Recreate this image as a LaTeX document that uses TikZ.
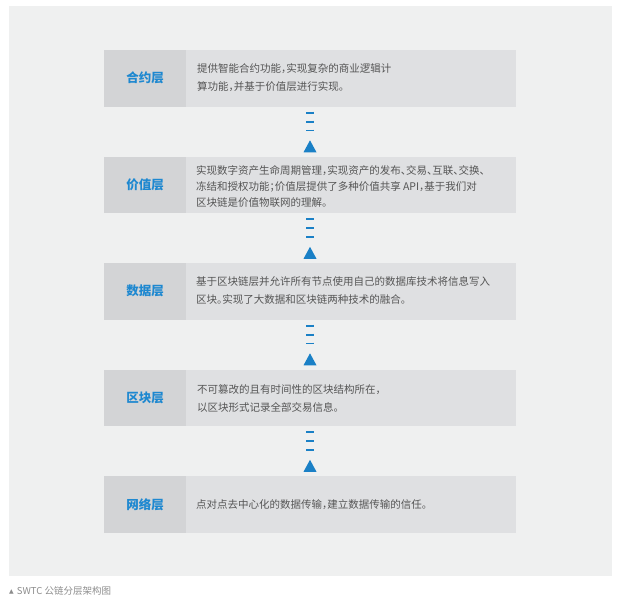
\documentclass[tikz,border=0pt]{standalone}
\usepackage{fontspec}
\setmainfont{Noto Sans CJK SC}[RawFeature={+halt}]
\newfontfamily\symfont{DejaVu Sans}
\definecolor{panelc}{HTML}{EFF0F0}
\definecolor{rowc}{HTML}{DFE0E2}
\definecolor{labc}{HTML}{D3D4D6}
\definecolor{bluec}{HTML}{1E88D0}
\definecolor{arrc}{HTML}{1A80C6}
\definecolor{textc}{HTML}{555555}
\definecolor{capc}{HTML}{8C8C8C}
\begin{document}
\begin{tikzpicture}[x=1pt,y=1pt,
  rowbox/.style={fill=rowc, minimum width=412pt, minimum height=56.5pt, inner sep=0pt, draw=none},
  labbox/.style={fill=labc, minimum width=82pt, minimum height=56.5pt, inner sep=0pt, anchor=west, font=\fontsize{12.5}{14}\selectfont\bfseries, text=bluec},
  bodytext/.style={anchor=west, inner sep=0pt, align=left, text=textc, font=\fontsize{10.5}{17.7}\selectfont},
  bars/.style={draw=arrc, line width=8pt, dash pattern=on 2pt off 7pt},
  tri/.style={fill=arrc}
]
\useasboundingbox (0,0) rectangle (620,-600);
\fill[panelc] (9,-6) rectangle (612,-576);

\node[rowbox] (r1) at (310,-78.25) {};
\node[rowbox] (r2) at (310,-184.75) {};
\node[rowbox] (r3) at (310,-291.25) {};
\node[rowbox] (r4) at (310,-397.75) {};
\node[rowbox] (r5) at (310,-504.25) {};

\node[labbox] (l1) at (r1.west) {合约层};
\node[labbox] (l2) at (r2.west) {价值层};
\node[labbox] (l3) at (r3.west) {数据层};
\node[labbox] (l4) at (r4.west) {区块层};
\node[labbox] (l5) at (r5.west) {网络层};

\node[bodytext] (t1) at ([xshift=93pt,yshift=0.5pt]r1.west) {提供智能合约功能，实现复杂的商业逻辑计\\算功能，并基于价值层进行实现。};
\node[bodytext, font=\fontsize{10.5}{15.8}\selectfont] (t2) at ([xshift=92pt,yshift=-2pt]r2.west) {实现数字资产生命周期管理，实现资产的发布、交易、互联、交换、\\冻结和授权功能；价值层提供了多种价值共享 API，基于我们对\\区块链是价值物联网的理解。};
\node[bodytext] (t3) at ([xshift=92pt,yshift=0.5pt]r3.west) {基于区块链层并允许所有节点使用自己的数据库技术将信息写入\\区块。实现了大数据和区块链两种技术的融合。};
\node[bodytext] (t4) at ([xshift=93pt,yshift=-1pt]r4.west) {不可篡改的且有时间性的区块结构所在，\\以区块形式记录全部交易信息。};
\node[bodytext] (t5) at ([xshift=92pt]r5.west) {点对点去中心化的数据传输，建立数据传输的信任。};

\foreach \lo/\up in {r2/r1,r3/r2,r4/r3,r5/r4}{
  \draw[bars] ([yshift=-5pt]\up.south) -- ([yshift=25pt]\lo.north);
  \fill[tri] ([xshift=-6.5pt,yshift=4pt]\lo.north) -- ([yshift=16pt]\lo.north) -- ([xshift=6.5pt,yshift=4pt]\lo.north) -- cycle;
}

\node[anchor=west, inner sep=0pt, text=capc, font=\fontsize{9.5}{11}\selectfont] (cap) at (9,-591) {\raisebox{1.2pt}{\symfont\fontsize{6}{6}\selectfont ▲}\hspace{1pt} SWTC 公链分层架构图};
\end{tikzpicture}
\end{document}
